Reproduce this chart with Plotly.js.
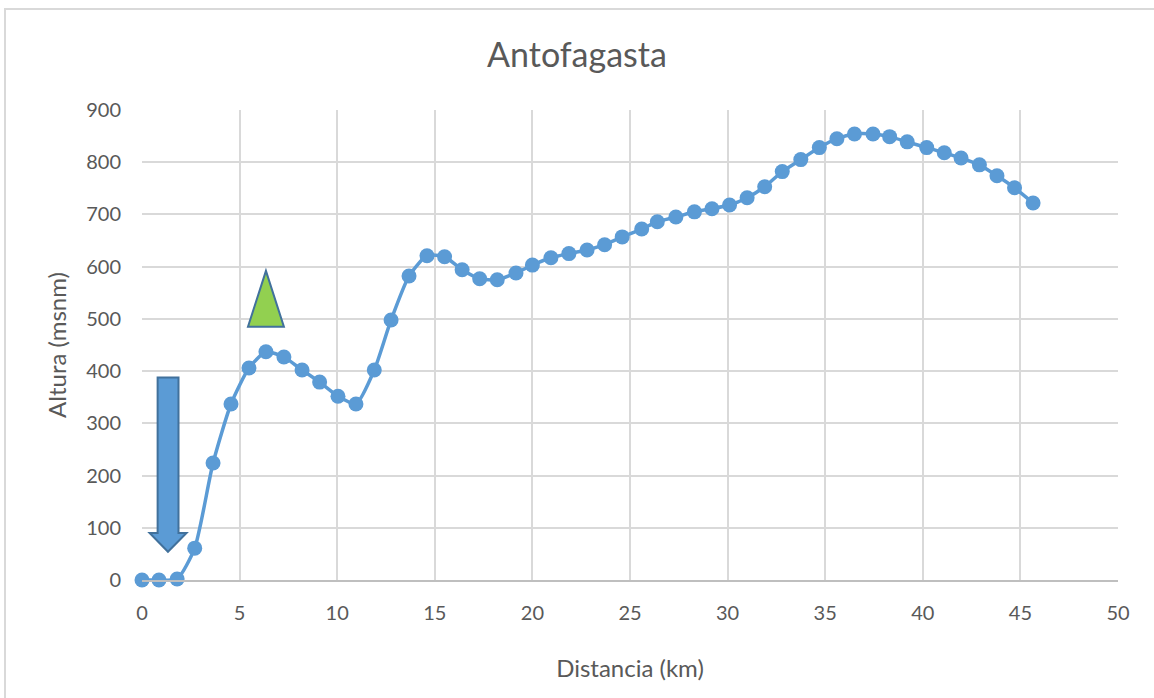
<!DOCTYPE html>
<html>
<head>
<meta charset="utf-8">
<script src="https://cdn.plot.ly/plotly-3.0.1.min.js"></script>
<style>
  html, body { margin: 0; padding: 0; background: #fff; overflow: hidden; }
  #wrap { position: relative; width: 1154px; height: 698px; }
  #chart { width: 1154px; height: 698px; }
  #frame { position: absolute; left: 4px; top: 8px; width: 1170px; height: 710px;
           border: 2px solid #d9d9d9; pointer-events: none; box-sizing: border-box; }
</style>
</head>
<body>
<div id="wrap">
  <div id="chart"></div>
  <div id="frame"></div>
</div>
<script>
// Distance (km) and altitude (msnm)
const distanciaKm = [0, 0.87, 1.8, 2.7, 3.64, 4.56, 5.48, 6.35, 7.27, 8.2,
  9.1, 10.04, 10.96, 11.9, 12.76, 13.68, 14.6, 15.5, 16.4, 17.3,
  18.2, 19.16, 20.0, 20.95, 21.87, 22.8, 23.7, 24.6, 25.6, 26.4,
  27.35, 28.3, 29.2, 30.1, 31.0, 31.9, 32.8, 33.75, 34.7, 35.6,
  36.5, 37.45, 38.3, 39.2, 40.2, 41.1, 41.96, 42.9, 43.8, 44.7, 45.65];
const alturaMsnm = [0, 0, 2, 61, 224, 337, 406, 437, 427, 402,
  379, 352, 337, 402, 498, 582, 621, 619, 594, 577,
  575, 588, 603, 617, 625, 632, 642, 657, 672, 686,
  695, 705, 711, 718, 732, 753, 782, 805, 828, 845,
  854, 854, 849, 839, 828, 818, 808, 795, 774, 751, 722];
const xTicks = [0, 5, 10, 15, 20, 25, 30, 35, 40, 45, 50];
const yTicks = [0, 100, 200, 300, 400, 500, 600, 700, 800, 900];

const txt = '#595959';
const fontFam = 'Lato, "Open Sans", sans-serif';

const trace = {
  x: distanciaKm, y: alturaMsnm, type: 'scatter', mode: 'lines+markers',
  line: { color: '#5B9BD5', width: 3.5, shape: 'spline', smoothing: 0.6 },
  marker: { color: '#5B9BD5', size: 15 },
  cliponaxis: false, hoverinfo: 'x+y'
};

// Down arrow (data coords) and green triangle
const arrowPath = 'M 0.80 388 L 1.87 388 L 1.87 90 L 2.28 90 L 1.33 54 L 0.39 90 L 0.80 90 Z';
const triPath = 'M 6.35 592 L 7.27 485 L 5.43 485 Z';

const layout = {
  width: 1154, height: 698,
  margin: { l: 142, r: 36, t: 110, b: 118 },
  paper_bgcolor: '#ffffff', plot_bgcolor: '#ffffff',
  showlegend: false,
  font: { family: fontFam, color: txt, size: 20 },
  title: { text: 'Antofagasta', font: { family: fontFam, size: 34, color: txt },
           x: 0.5, xanchor: 'center', y: 0.921, yanchor: 'middle' },
  xaxis: {
    range: [0, 50], tickvals: xTicks, ticktext: xTicks.map(String),
    showgrid: true, gridcolor: '#d9d9d9', gridwidth: 2,
    zeroline: false, showline: true, linecolor: '#bfbfbf', linewidth: 2,
    ticks: '', ticklabelstandoff: 14, tickfont: { size: 20, color: txt, family: fontFam },
    title: { text: 'Distancia (km)', font: { size: 24, color: txt, family: fontFam }, standoff: 37 },
    automargin: false
  },
  yaxis: {
    range: [0, 900], tickvals: yTicks, ticktext: yTicks.map(String),
    showgrid: true, gridcolor: '#d9d9d9', gridwidth: 2,
    zeroline: false, showline: false,
    ticks: '', ticklabelstandoff: 20, tickfont: { size: 20, color: txt, family: fontFam },
    title: { text: 'Altura (msnm)', font: { size: 24, color: txt, family: fontFam }, standoff: 12 },
    automargin: false
  },
  shapes: [
    { type: 'path', xref: 'x', yref: 'y', path: arrowPath,
      fillcolor: '#5B9BD5', line: { color: '#41719C', width: 2 }, layer: 'above' },
    { type: 'path', xref: 'x', yref: 'y', path: triPath,
      fillcolor: '#92D050', line: { color: '#41719C', width: 2 }, layer: 'above' }
  ]
};

Plotly.newPlot('chart', [trace], layout, { displayModeBar: false, staticPlot: true });
</script>
</body>
</html>
